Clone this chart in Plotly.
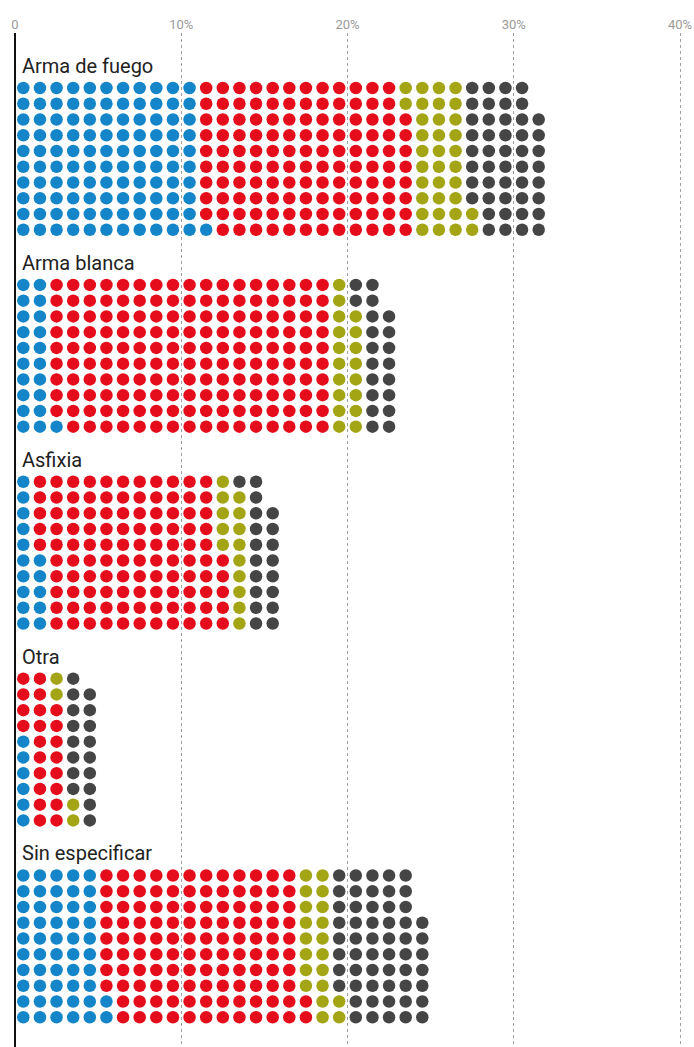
import plotly.graph_objects as go

# ---- data (percent of cases; each dot = 0.1 %) ----
categories = ["Arma de fuego", "Arma blanca", "Asfixia", "Otra", "Sin especificar"]
series_names = ["Serie azul", "Serie roja", "Serie oliva", "Serie gris"]
blue_vals = [11.1, 2.1, 1.5, 0.6, 5.2]
red_vals = [12.7, 16.9, 11.0, 2.2, 12.0]
olive_vals = [3.4, 1.8, 1.4, 0.4, 2.0]
gray_vals = [4.6, 2.0, 1.9, 1.7, 5.5]
tick_vals = [0, 10, 20, 30, 40]
tick_text = ["0", "10%", "20%", "30%", "40%"]

colors = ["#1385c8", "#e50d1b", "#a3a515", "#454545"]
series_vals = [blue_vals, red_vals, olive_vals, gray_vals]

ROWS = 10            # dots per column (one column = 1 %)
GROUP_STEP = 12.5    # vertical distance between groups, in row units

# waffle layout: fill columns left to right, each column bottom to top
xs = [[] for _ in series_vals]
ys = [[] for _ in series_vals]
for g, cat in enumerate(categories):
    idx = 0
    for s, vals in enumerate(series_vals):
        n = int(round(vals[g] * 10))
        for _ in range(n):
            col = idx // ROWS
            row_from_bottom = idx % ROWS
            xs[s].append(col + 0.5)
            ys[s].append(g * GROUP_STEP + (ROWS - 1 - row_from_bottom))
            idx += 1

fig = go.Figure()
for s in range(len(series_vals)):
    fig.add_trace(go.Scatter(
        x=xs[s], y=ys[s], mode="markers", name=series_names[s],
        marker=dict(size=12.5, color=colors[s], line=dict(width=0)),
        hoverinfo="skip",
    ))

for g, cat in enumerate(categories):
    fig.add_annotation(
        x=0, y=g * GROUP_STEP - 1.4, xref="x", yref="y",
        text=cat, showarrow=False, xanchor="left", yanchor="middle",
        xshift=5, font=dict(family="Roboto", size=20, color="#222222"),
    )

# body margin is removed in the page, so figure coordinates = page coordinates
W, H = 694, 1047
PX_PER_PCT = 16.625
X0_PX = 15
TOP = 33
ROW_PX = 15.75
FIRST_ROW_PX = 88

fig.update_layout(
    width=W, height=H,
    margin=dict(l=0, r=0, t=TOP, b=0, pad=0),
    paper_bgcolor="white", plot_bgcolor="white",
    showlegend=False,
    xaxis=dict(
        side="top",
        range=[-X0_PX / PX_PER_PCT, (W - X0_PX) / PX_PER_PCT],
        tickmode="array", tickvals=tick_vals, ticktext=tick_text,
        tickfont=dict(family="Roboto", size=13, color="#9a9a9a"),
        ticklabeloverflow="allow",
        ticks="", showgrid=True, gridcolor="#a0a0a0", gridwidth=1, griddash="dot",
        zeroline=True, zerolinecolor="#111111", zerolinewidth=2.5,
        showline=False, fixedrange=True,
    ),
    yaxis=dict(
        range=[(H - FIRST_ROW_PX) / ROW_PX, -(FIRST_ROW_PX - TOP) / ROW_PX],
        showticklabels=False, showgrid=False, zeroline=False, showline=False,
        fixedrange=True,
    ),
)

fig.write_html(
    "out.html",
    config={"displayModeBar": False, "staticPlot": True},
    post_script="document.body.style.margin='0';document.body.style.overflow='hidden';",
)
